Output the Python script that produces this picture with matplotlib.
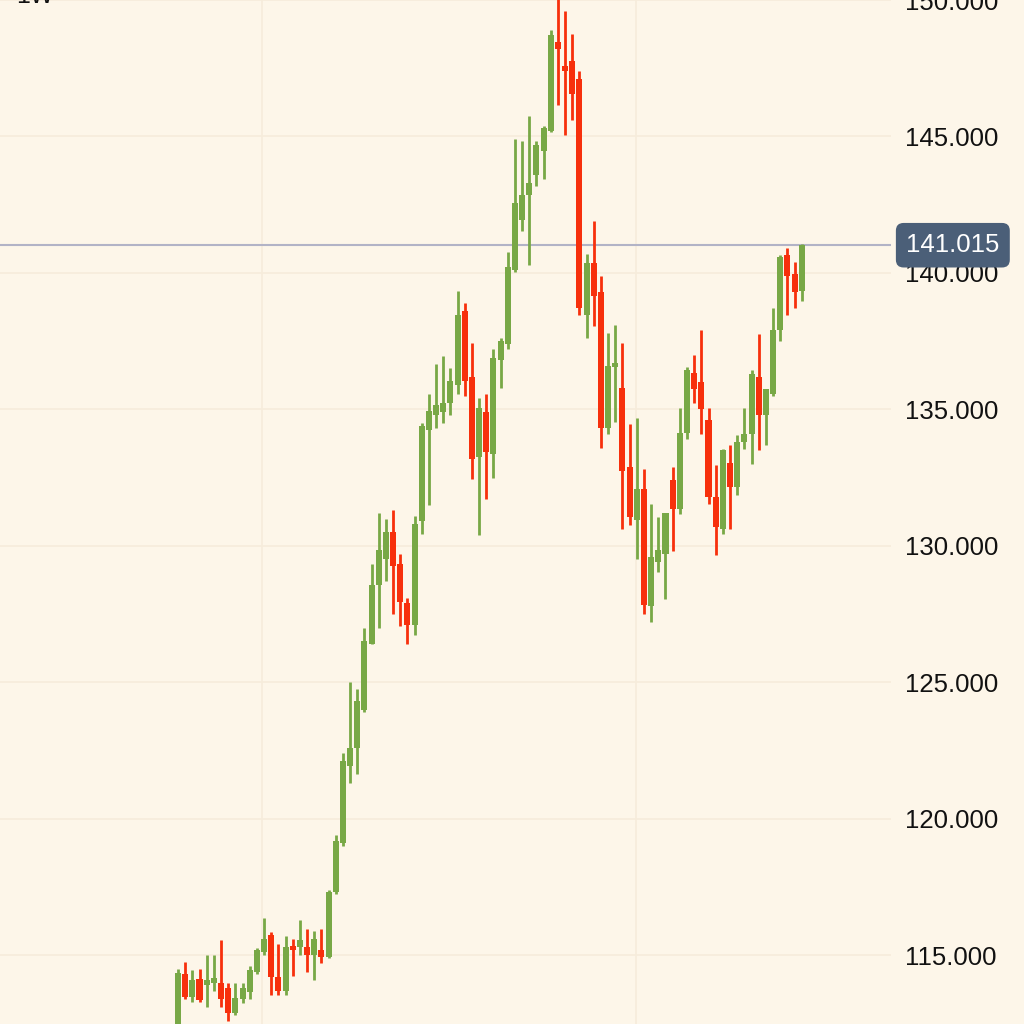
import matplotlib.pyplot as plt
import numpy as np

# weekly candles (1W), oldest first
opens = [111.6, 114.31, 113.47, 114.12, 113.9, 114.0, 113.98, 113.8, 112.9, 113.4,
         113.65, 114.4, 115.1, 115.73, 114.2, 113.7, 115.35, 115.3, 115.3, 115.0,
         115.2, 114.95, 117.3, 119.1, 121.95, 122.6, 124.0, 126.4, 128.55, 129.5,
         130.5, 129.35, 127.9, 127.1, 130.9, 134.25, 134.8, 134.9, 135.25, 135.9,
         138.6, 136.2, 133.25, 134.9, 133.35, 136.8, 137.4, 140.1, 141.95, 142.85,
         143.6, 144.45, 145.2, 148.45, 147.6, 147.75, 147.1, 138.47, 140.35, 139.3,
         134.3, 136.55, 135.8, 132.9, 130.95, 132.1, 127.8, 129.4, 129.7, 132.4,
         131.35, 134.15, 136.35, 136.0, 134.6, 131.8, 130.6, 133.05, 132.15, 133.8,
         134.1, 136.2, 134.8, 135.55, 137.9, 140.65, 139.95, 139.35]
closes = [114.34, 113.47, 114.09, 113.36, 114.1, 114.15, 113.4, 112.9, 113.43, 113.8,
          114.45, 115.2, 115.6, 114.2, 113.7, 115.3, 115.2, 115.55, 115.0, 115.6,
          114.93, 117.3, 119.2, 122.1, 122.6, 124.3, 126.5, 128.55, 129.85, 130.5,
          129.25, 127.95, 127.1, 130.8, 134.4, 134.95, 135.15, 135.25, 136.05, 138.45,
          136.05, 133.2, 135.05, 133.45, 136.9, 137.5, 140.2, 142.55, 142.85, 143.3,
          144.7, 145.3, 148.7, 148.2, 147.4, 146.55, 138.7, 140.35, 139.15, 134.3,
          136.6, 136.7, 132.75, 131.05, 132.1, 127.85, 129.6, 129.85, 131.2, 131.35,
          134.15, 136.45, 135.75, 135.0, 131.8, 130.7, 133.5, 132.15, 133.8, 134.1,
          136.3, 134.8, 135.75, 137.9, 140.6, 139.9, 139.3, 141.015]
highs = [114.49, 114.74, 114.45, 114.49, 115.0, 115.0, 115.55, 113.98, 114.0, 114.0,
         114.6, 115.25, 116.35, 115.85, 115.4, 115.7, 115.6, 116.3, 115.95, 115.9,
         115.95, 117.4, 119.4, 122.4, 125.0, 124.75, 127.0, 129.35, 131.2, 131.0,
         131.3, 129.7, 128.1, 131.1, 134.5, 135.55, 136.65, 136.95, 136.5, 139.35,
         138.9, 137.45, 135.4, 135.55, 137.2, 137.6, 140.75, 144.9, 144.85, 145.75,
         144.85, 145.4, 148.9, 150.2, 149.6, 148.75, 147.4, 140.7, 141.9, 139.9,
         137.8, 138.1, 137.45, 134.45, 134.7, 132.8, 131.55, 131.05, 131.2, 132.9,
         135.05, 136.55, 137.0, 137.9, 135.05, 132.95, 133.55, 133.7, 134.05, 135.05,
         136.45, 137.75, 135.75, 138.7, 140.65, 140.9, 140.4, 141.05]
lows = [111.5, 113.4, 113.28, 113.28, 113.1, 113.7, 113.1, 112.6, 112.8, 113.25,
        113.4, 114.3, 115.0, 113.55, 113.55, 113.55, 114.25, 115.0, 114.4, 114.1,
        114.7, 114.9, 117.25, 119.0, 121.3, 121.65, 123.9, 126.4, 127.0, 128.7,
        127.5, 127.05, 126.4, 126.75, 130.45, 131.5, 134.3, 134.5, 134.8, 135.55,
        135.5, 132.45, 130.4, 131.7, 132.5, 135.8, 137.2, 140.05, 141.55, 140.3,
        143.2, 143.45, 145.15, 146.15, 145.05, 145.6, 138.45, 137.6, 138.05, 133.6,
        134.1, 134.55, 130.6, 130.75, 129.5, 127.5, 127.2, 129.05, 128.05, 129.8,
        131.15, 133.9, 135.25, 134.1, 131.55, 129.65, 130.45, 130.6, 131.85, 133.55,
        133.0, 133.5, 133.7, 135.5, 137.5, 138.45, 138.7, 138.97]

last_price = 141.015
yticks = [115, 120, 125, 130, 135, 140, 145, 150]
month_lines = [11.67, 63.9]

up_color = '#78a846'
down_color = '#f7300c'
bg = '#fdf6e9'

fig = plt.figure(figsize=(10.24, 10.24), dpi=100)
fig.patch.set_facecolor(bg)
ax = fig.add_axes([0, 0, 0.87, 1])
ax.set_facecolor(bg)

x = np.arange(len(opens))
o = np.array(opens)
c = np.array(closes)
colors = [up_color if cc >= oo else down_color for oo, cc in zip(o, c)]

ax.vlines(x, lows, highs, colors=colors, linewidth=2.0, zorder=3)
body = np.where(np.abs(c - o) < 0.14, 0.14 * np.sign(c - o + 1e-9), c - o)
ax.bar(x, body, bottom=o, width=0.84, color=colors, linewidth=0, zorder=4)

ax.axhline(last_price, color='#b2b3c6', linewidth=1.5, zorder=2)

ax.set_xlim(-24.83, 99.44)
ax.set_ylim(112.48, 149.85)

ax.set_yticks(yticks)
ax.set_yticklabels(['%.3f' % v for v in yticks])
ax.yaxis.tick_right()
ax.tick_params(axis='y', length=0, pad=10, labelsize=18.5, labelcolor='#111111')
ax.set_xticks(month_lines)
ax.tick_params(axis='x', length=0, labelbottom=False)
for lab in ax.get_yticklabels():
    lab.set_fontfamily(['Liberation Sans', 'DejaVu Sans'])
ax.grid(True, color='#f6ecdb', linewidth=1.2, zorder=0)
for s in ax.spines.values():
    s.set_visible(False)

ax.annotate('%.3f' % last_price, xy=(1, last_price),
            xycoords=('axes fraction', 'data'), xytext=(11, 0),
            textcoords='offset points', ha='left', va='center',
            fontsize=18.5, color='white', family=['Liberation Sans', 'DejaVu Sans'],
            bbox=dict(boxstyle='round,pad=0.4,rounding_size=0.3',
                      fc='#4b5f78', ec='none'),
            annotation_clip=False, zorder=10)

fig.text(0.016, 1.004, '1W', fontsize=18, color='#111111', va='center',
         family=['Liberation Sans', 'DejaVu Sans'])

plt.savefig('out.png', dpi=100, facecolor=bg)
